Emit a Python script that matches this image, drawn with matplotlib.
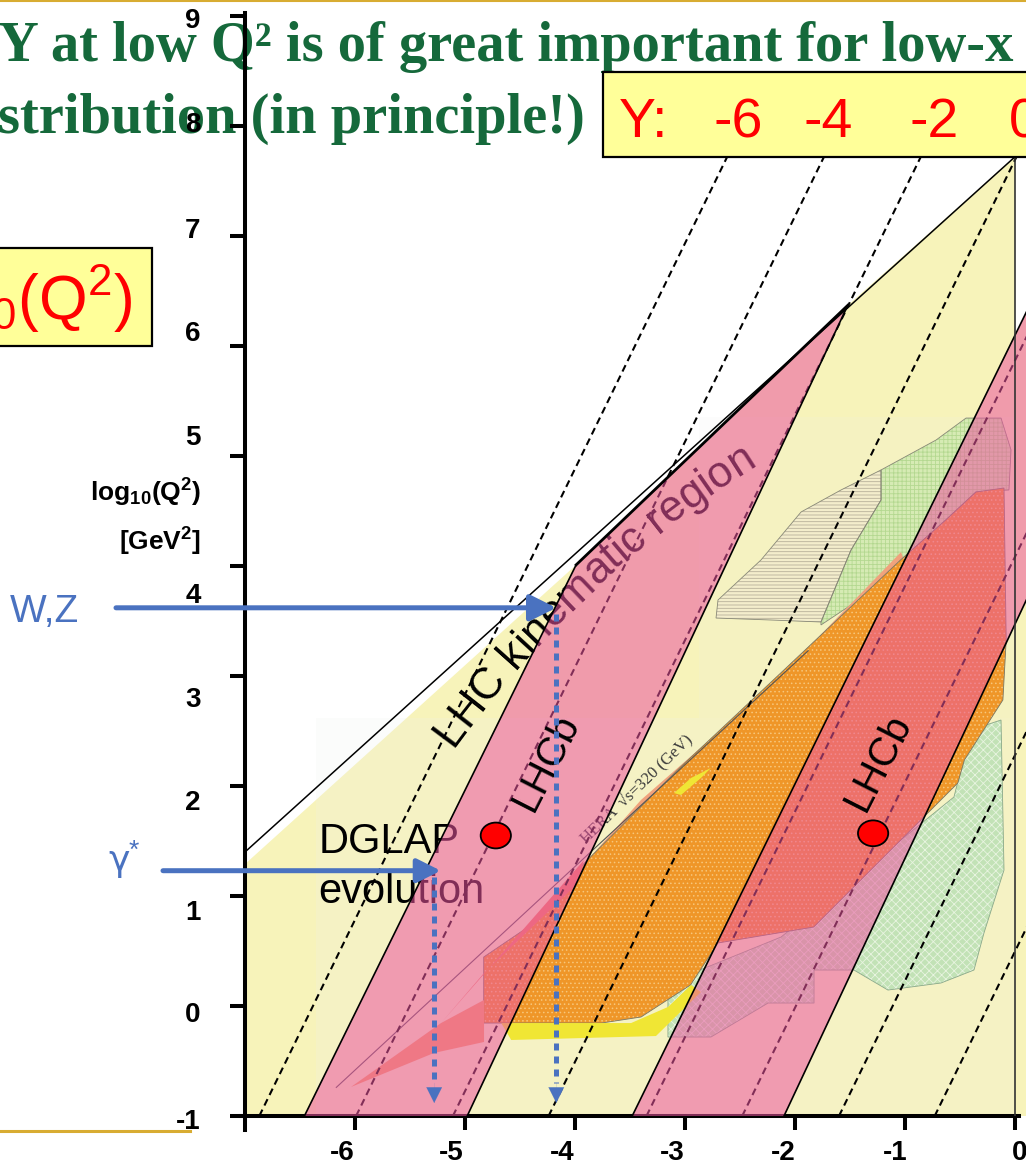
import matplotlib
matplotlib.use("Agg")
import matplotlib.pyplot as plt
import matplotlib.transforms as mtransforms
import numpy as np
from matplotlib.patches import Polygon, Rectangle, Ellipse
from matplotlib.lines import Line2D
from matplotlib.font_manager import FontProperties

plt.rcParams["font.family"] = ["Liberation Sans", "DejaVu Sans"]
plt.rcParams["mathtext.fontset"] = "custom"
plt.rcParams["mathtext.rm"] = "Liberation Sans"
plt.rcParams["mathtext.it"] = "Liberation Sans:italic"
plt.rcParams["mathtext.bf"] = "Liberation Sans:bold"
plt.rcParams["hatch.linewidth"] = 0.6

# ---- kinematic plane: log10(x) vs log10(Q^2) ----
kin_limit_logx = [-7.0, 0.0]
kin_limit_logq2 = [1.40, 7.72]

lhc_region_logx = [-7.0, -7.0, -3.99, -1.52, 0.0, 0.0, 0.30, 0.30]
lhc_region_logq2 = [-1.0, 1.29, 4.01, 6.37, 7.72, 6.09, 6.71, -1.0]

band1_logx = [-6.46, -4.98, -1.52, -3.99]
band1_logq2 = [-1.0, -1.0, 6.37, 4.01]
band2_logx = [-3.48, -2.10, 0.30, 0.30]
band2_logq2 = [-1.0, -1.0, 4.11, 6.71]

# constant-rapidity lines, given by where they cross log10(Q^2) = -1
rap_Y = [-6, -4, -2, 0, 2, 4, 6, 8]
rap_logx_bottom = [-6.87, -5.99, -5.11, -4.24, -3.35, -2.48, -1.60, -0.73]

# measured regions
hera_logx = [-4.83, -4.83, -4.40, -3.95, -3.04, -2.13, -1.04, -0.63, -0.355, -0.10,
             -0.08, -0.11, -0.46, -0.52, -1.83, -2.70, -2.95, -3.40, -3.76]
hera_logq2 = [-0.155, 0.445, 0.736, 1.264, 2.173, 3.027, 4.055, 4.418, 4.673, 4.709,
              3.327, 2.782, 2.236, 2.027, 0.718, 0.573, 0.191, -0.10, -0.155]

h1_fringe_logx = [-4.127, -3.40, -2.673, -1.945, -1.036, -0.99, -1.945, -2.673, -3.40, -4.082]
h1_fringe_logq2 = [1.055, 1.873, 2.509, 3.191, 4.127, 4.0, 3.036, 2.373, 1.736, 0.964]

hera_low_logx = [-4.67, -3.49, -3.155, -2.945, -2.855, -3.264, -4.58]
hera_low_logq2 = [-0.155, -0.155, -0.009, 0.191, 0.127, -0.273, -0.309]

hera_spot_logx = [-3.10, -2.945, -2.764, -2.855, -3.036]
hera_spot_logq2 = [1.936, 2.073, 2.164, 2.073, 1.918]

fixed_target_logx = [-3.155, -2.127, -0.555, -0.40, -0.127, -0.10, -0.282, -0.373, -0.673,
                     -1.155, -1.464, -1.827, -1.827, -2.245, -2.764, -3.155]
fixed_target_logq2 = [0.209, 0.627, 1.90, 2.509, 2.60, 1.236, 0.664, 0.327, 0.209,
                      0.145, 0.327, 0.327, 0.027, 0.027, -0.282, -0.282]

tevatron_logx = [-2.718, -2.70, -2.309, -1.945, -1.582, -1.218, -1.218, -1.491, -1.764, -2.218]
tevatron_logq2 = [3.527, 3.691, 4.055, 4.491, 4.691, 4.873, 4.60, 4.145, 3.491, 3.509]

jets_logx = [-1.218, -0.718, -0.445, -0.127, -0.036, -0.055, -0.355, -0.63, -1.036, -1.491,
             -1.764, -1.764, -1.491, -1.218]
jets_logq2 = [4.873, 5.145, 5.345, 5.345, 5.055, 4.691, 4.673, 4.418, 4.055, 3.645,
              3.464, 3.491, 4.145, 4.60]

lowx_streak_logx = [-6.036, -5.218, -4.827, -4.827, -5.282]
lowx_streak_logq2 = [-0.736, -0.155, 0.055, -0.327, -0.427]
lowx_red_logx = [-5.218, -3.918, -3.99, -4.827]
lowx_red_logq2 = [-0.155, 1.327, 1.10, 0.30]

hera_limit_logx = [-6.17, -1.88]
hera_limit_logq2 = [-0.74, 3.23]

# probes and LHCb points
probe_names = ["W,Z", "\u03b3"]
probe_logq2 = [3.62, 1.23]
probe_logx = [-4.17, -5.28]
lhcb_pts_logx = [-4.72, -1.29]
lhcb_pts_logq2 = [1.55, 1.57]

yticks = list(range(-1, 10))
xticks = list(range(-6, 1))
ytick_shift_px = [3, 6, 14, 14, 21, 27, -21, -15, -8, -4, 2]
xtick_shift_px = [-13, -14, -13, -13, -12, -10, 5]

rap_box_labels = ["Y:", "-6", "-4", "-2", "0"]

W, H = 1026, 1164
PX = 110.0  # pixels per decade on both axes

yellow = "#f7f3ba"
pink = "#ec54a0"
blue = "#4a72c0"
green_title = "#15693b"

fig = plt.figure(figsize=(W / 100, H / 100), dpi=100)
ax = fig.add_axes([245 / W, 48 / H, (W - 245) / W, 1116 / H])
ax.set_xlim(-7, -7 + (W - 245) / PX)
ax.set_ylim(-1, -1 + 1116 / PX)
ax.set_facecolor("none")

for s in ["top", "right"]:
    ax.spines[s].set_visible(False)
ax.spines["left"].set_linewidth(2.9)
ax.spines["bottom"].set_linewidth(2.9)
ax.spines["left"].set_bounds(-1.13, 9.03)
ax.spines["bottom"].set_bounds(-7.04, 0.04)

ax.set_yticks(yticks)
ax.set_yticklabels([str(v) for v in yticks], fontweight="bold", fontsize=20)
ax.set_xticks(xticks)
ax.set_xticklabels([str(v) for v in xticks], fontweight="bold", fontsize=20)
ax.tick_params(axis="y", length=11, width=2.9, pad=21)
ax.tick_params(axis="x", length=10, width=2.9, pad=7)
for lab, d in zip(ax.get_yticklabels(), ytick_shift_px):
    lab.set_transform(lab.get_transform() + mtransforms.ScaledTranslation(0, -d / 100, fig.dpi_scale_trans))
for lab, d in zip(ax.get_xticklabels(), xtick_shift_px):
    lab.set_transform(lab.get_transform() + mtransforms.ScaledTranslation(d / 100, 0, fig.dpi_scale_trans))

# kinematic region
ax.add_patch(Polygon(np.column_stack([lhc_region_logx, lhc_region_logq2]), closed=True,
                     fc=yellow, ec="none", zorder=1))
ax.add_patch(Rectangle((-6.355, -1), 6.355, 3.62, fc="#eef0ee", ec="none", alpha=0.2, zorder=1.2))
ax.add_patch(Rectangle((-2.873, 2.62), 2.873, 2.735, fc="#eef0ee", ec="none", alpha=0.15, zorder=1.2))

# data regions
def region(xs, ys, fc, hatch=None, hc=None, ec="none", z=2.0, lw=0.6):
    pts = np.column_stack([xs, ys])
    ax.add_patch(Polygon(pts, closed=True, fc=fc, ec="none", lw=0, zorder=z))
    if hatch:
        ax.add_patch(Polygon(pts, closed=True, fc="none", ec=hc, lw=0, hatch=hatch, zorder=z + 0.01))
    if ec != "none":
        ax.add_patch(Polygon(pts, closed=True, fc="none", ec=ec, lw=lw, zorder=z + 0.02))

region(tevatron_logx, tevatron_logq2, "#f3edcc", "-----", "#b8b09a", ec="#888877")
region(jets_logx, jets_logq2, "#d6ebb4", "++++", "#b4d890", ec="#888877")
region(fixed_target_logx, fixed_target_logq2, "#c2e2b6", "xxxx", "#e8f4e0", ec="#8aa88a", z=2.1)
region(h1_fringe_logx, h1_fringe_logq2, "#f0a27c", z=2.2)
region(hera_logx, hera_logq2, "#ef9628", "....", "#f7c67a", ec="#777766", z=2.3)
region(hera_low_logx, hera_low_logq2, "#f0e634", z=2.4)
region(hera_spot_logx, hera_spot_logq2, "#f0e634", z=2.4)
region(lowx_streak_logx, lowx_streak_logq2, "#f3a466", z=2.4)
region(lowx_red_logx, lowx_red_logq2, "#f08060", z=2.4)
ax.plot(hera_limit_logx, hera_limit_logq2, color="#555555", lw=0.8, zorder=2.6)
ax.text(-3.44, 1.97, "HERA  \u221as=320 (GeV)", family=["Liberation Serif", "DejaVu Serif"],
        fontsize=12, color="#3a3a3a", rotation=44, rotation_mode="anchor",
        ha="center", va="center", zorder=2.7)

# constant-rapidity lines
for x0 in rap_logx_bottom:
    top = kin_limit_logq2[1]
    ax.plot([x0, x0 + (top + 1) / 2.05], [-1, top], color="black", lw=1.5,
            dashes=(3.4, 2.2), zorder=3)


def text_along_arc(s, x0, y0, a0, a1, size, **kw):
    r = fig.canvas.get_renderer()
    fp = FontProperties(family="Liberation Sans", size=size)

    def adv(t):
        return r.get_text_width_height_descent(t + "I", fp, ismath=False)[0]

    base = adv("")
    edges = [adv(s[:i]) - base for i in range(len(s) + 1)]
    k = np.radians(a1 - a0) / edges[-1]
    t0 = np.radians(a0)
    for i, ch in enumerate(s):
        if ch == " ":
            continue
        c = 0.5 * (edges[i] + edges[i + 1])
        th = t0 + k * c
        dx = (np.sin(th) - np.sin(t0)) / k
        dy = -(np.cos(th) - np.cos(t0)) / k
        ax.text(x0 + dx / PX, y0 + dy / PX, ch, fontproperties=fp, rotation=np.degrees(th),
                rotation_mode="anchor", ha="center", va="baseline", **kw)


text_along_arc("LHC kinematic region", -5.11, 2.345, 54, 32, 31.5, color="black", zorder=3.5)
ax.text(-6.33, 1.39, "DGLAP", fontsize=30, va="baseline", zorder=3.5)
ax.text(-6.33, 0.94, "evolution", fontsize=30, va="baseline", zorder=3.5)

# LHCb acceptance bands
for bx, by in [(band1_logx, band1_logq2), (band2_logx, band2_logq2)]:
    ax.add_patch(Polygon(np.column_stack([bx, by]), closed=True, fc=pink, ec="none",
                         alpha=0.55, zorder=4))
    ax.plot([bx[0], bx[3]], [by[0], by[3]], color="black", lw=1.2, zorder=5)
    ax.plot([bx[1], bx[2]], [by[1], by[2]], color="black", lw=1.2, zorder=5)
ax.plot([band1_logx[3], band1_logx[2]], [band1_logq2[3], band1_logq2[2]], color="black", lw=2.0, zorder=5)
ax.plot(kin_limit_logx, kin_limit_logq2, color="black", lw=1.1, zorder=5)
ax.plot([0, 0], [-1, kin_limit_logq2[1]], color="#333333", lw=1.2, zorder=5)

ax.text(-4.26, 2.22, "LHCb", fontsize=29, rotation=63, rotation_mode="anchor",
        ha="center", va="center", zorder=6)
ax.text(-1.24, 2.22, "LHCb", fontsize=29, rotation=63, rotation_mode="anchor",
        ha="center", va="center", zorder=6)

# probes: horizontal arrows from the scale labels, then dotted drops to the x axis
arrow_start_px = [115, 162]
for name, q2, lx, sx in zip(probe_names, probe_logq2, probe_logx, arrow_start_px):
    x_start = (sx - 1014) / PX
    tip = lx + (0.06 if q2 < 2 else 0.0)
    ax.annotate("", xy=(tip, q2), xytext=(x_start, q2), annotation_clip=False,
                arrowprops=dict(arrowstyle="-|>,head_length=0.8,head_width=0.4", lw=3.6,
                                color=blue, mutation_scale=20 if q2 > 2 else 18,
                                shrinkA=0, shrinkB=0), zorder=7)
    ax.plot([lx, lx], [q2 - 0.06, -0.70], color=blue, lw=3.6, dashes=(1.4, 1.2),
            solid_capstyle="butt", dash_capstyle="butt", zorder=7)
    ax.annotate("", xy=(lx, -0.882), xytext=(lx, -0.70), annotation_clip=False,
                arrowprops=dict(arrowstyle="-|>,head_length=0.8,head_width=0.4", lw=0.1,
                                color=blue, mutation_scale=14, shrinkA=0, shrinkB=0), zorder=7)

fig.text(10 / W, 1 - 622 / H, probe_names[0], color=blue, fontsize=28, va="baseline")
fig.text(108 / W, 1 - 871 / H, probe_names[1], color=blue, fontsize=26, va="baseline",
         family="DejaVu Sans")
fig.text(129 / W, 1 - 858 / H, "*", color=blue, fontsize=19, va="baseline")

for lx, lq in zip(lhcb_pts_logx, lhcb_pts_logq2):
    ax.add_patch(Ellipse((lx, lq), 0.275, 0.235, fc="#ff0000", ec="black", lw=1.3, zorder=8))

# axis title
fig.text(201 / W, 1 - 502 / H, r"log$_{\mathbf{10}}$(Q$^{\mathbf{2}}$)", fontweight="bold",
         fontsize=19, ha="right", va="baseline")
fig.text(201 / W, 1 - 551 / H, r"[GeV$^{\mathbf{2}}$]", fontweight="bold",
         fontsize=19, ha="right", va="baseline")

# slide decorations
fig.add_artist(Line2D([0, 1], [1 - 1 / H, 1 - 1 / H], transform=fig.transFigure,
                      color="#d8ac32", lw=1.5))
fig.add_artist(Line2D([0, 190 / W], [1 - 1131 / H, 1 - 1131 / H], transform=fig.transFigure,
                      color="#d8ac32", lw=2.2))

tprops = dict(family=["Liberation Serif", "DejaVu Serif"], weight="bold", color=green_title,
              ha="left", va="baseline", zorder=-1)
t1 = fig.text(-2 / W, 1 - 61 / H, "Y at low Q\u00b2 is of great important for low-x", fontsize=40, **tprops)
r = fig.canvas.get_renderer()
fs = 40 * 1015 / t1.get_window_extent(r).width
t1.set_fontsize(fs)
fig.text(-2 / W, 1 - 133 / H, "stribution (in principle!)", fontsize=fs, **tprops)

fig.add_artist(Rectangle((603 / W, 1 - 157 / H), (W - 603 + 10) / W, 85 / H, transform=fig.transFigure,
                         fc="#ffff99", ec="black", lw=1.6, zorder=5))
box_label_px = [619, 713, 804, 909, 1009]
for lab, px in zip(rap_box_labels, box_label_px):
    fig.text(px / W, 1 - 137 / H, lab, color="#ff0000", fontsize=40, va="baseline", zorder=6)

fig.add_artist(Rectangle((-10 / W, 1 - 346 / H), 162 / W, 98 / H, transform=fig.transFigure,
                         fc="#ffff99", ec="black", lw=1.6, zorder=5))
fig.text(132 / W, 1 - 320 / H, r"log$_{10}$(Q$^{2}$)", color="#ff0000", fontsize=45,
         ha="right", va="baseline", zorder=6)

fig.savefig("out.png", dpi=100)
